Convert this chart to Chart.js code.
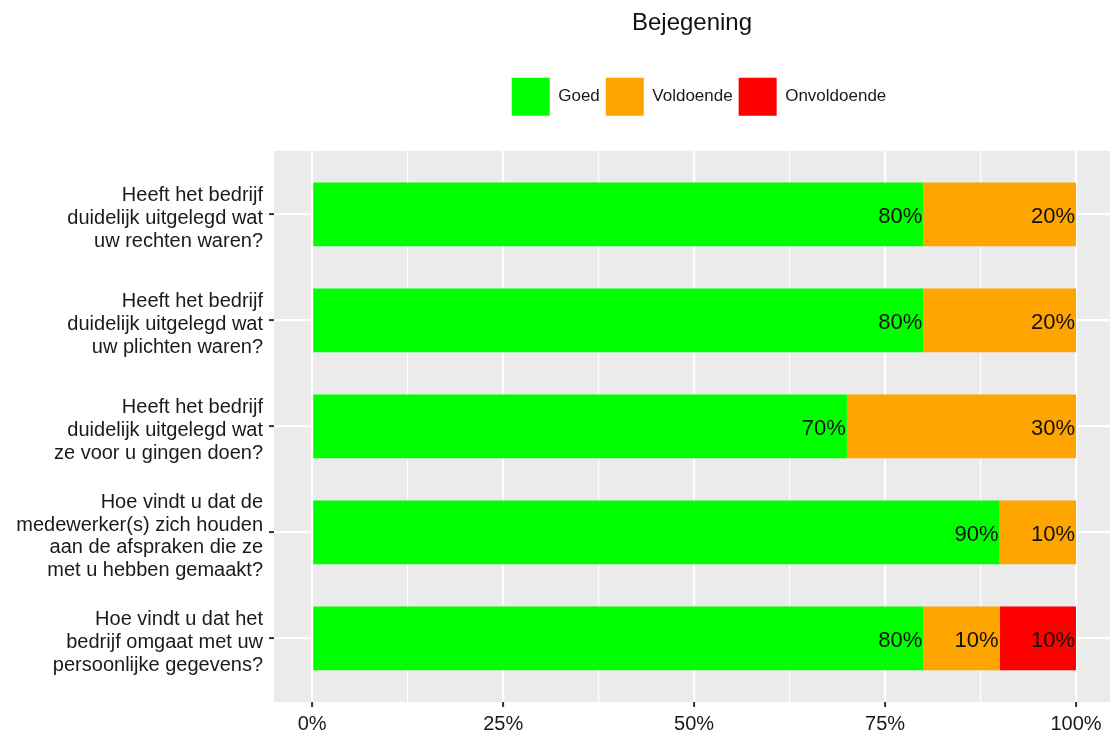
<!DOCTYPE html>
<html lang="nl">
<head>
  <meta charset="UTF-8" />
  <title>Bejegening</title>
  <script src="https://cdn.jsdelivr.net/npm/chart.js"></script>
  <style>
    body {
      margin: 0;
      background: #ffffff;
    }
    #wrap {
      width: 1110px;
      height: 736px;
    }
  </style>
</head>
<body>
  <div id="wrap"><canvas id="chart" width="1110" height="736"></canvas></div>

  <script>
    const questions = [
      ["Heeft het bedrijf", "duidelijk uitgelegd wat", "uw rechten waren?"],
      ["Heeft het bedrijf", "duidelijk uitgelegd wat", "uw plichten waren?"],
      ["Heeft het bedrijf", "duidelijk uitgelegd wat", "ze voor u gingen doen?"],
      ["Hoe vindt u dat de", "medewerker(s) zich houden", "aan de afspraken die ze", "met u hebben gemaakt?"],
      ["Hoe vindt u dat het", "bedrijf omgaat met uw", "persoonlijke gegevens?"]
    ];
    const goed = [0.8, 0.8, 0.7, 0.9, 0.8];
    const voldoende = [0.2, 0.2, 0.3, 0.1, 0.1];
    const onvoldoende = [0, 0, 0, 0, 0.1];
    const majorTicks = [0, 0.25, 0.5, 0.75, 1];
    const tickLabels = ["0%", "25%", "50%", "75%", "100%"];

    const FONT = '"Liberation Sans", Arial, sans-serif';

    // major + minor x positions (minor halfway between majors, like ggplot)
    const xTickValues = [];
    majorTicks.forEach((v, i) => {
      xTickValues.push(v);
      if (i < majorTicks.length - 1) xTickValues.push((v + majorTicks[i + 1]) / 2);
    });

    const toPoints = arr => arr.map((v, i) => ({ x: v, y: i }));

    const panelBg = {
      id: 'panelBg',
      afterLayout(chart) {
        // nudge legend a bit to the right, like the original
        if (chart.legend) {
          chart.legend.left += 7;
          chart.legend.right += 7;
          chart.legend.top += 1;
          chart.legend.bottom += 1;
        }
      },
      beforeDraw(chart) {
        const { ctx, chartArea: a } = chart;
        ctx.save();
        ctx.fillStyle = '#EBEBEB';
        ctx.fillRect(a.left, a.top, a.right - a.left, a.bottom - a.top);
        ctx.restore();
      }
    };

    const barLabels = {
      id: 'barLabels',
      afterDatasetsDraw(chart) {
        const ctx = chart.ctx;
        ctx.save();
        ctx.font = '22px ' + FONT;
        ctx.fillStyle = '#111';
        ctx.textAlign = 'right';
        ctx.textBaseline = 'middle';
        chart.data.datasets.forEach((ds, i) => {
          chart.getDatasetMeta(i).data.forEach((bar, j) => {
            const v = ds.data[j].x;
            if (!v) return;
            ctx.fillText(Math.round(v * 100) + '%', bar.x - 1, bar.y + 3);
          });
        });
        ctx.restore();
      }
    };

    new Chart(document.getElementById('chart').getContext('2d'), {
      type: 'bar',
      data: {
        datasets: [
          { label: 'Goed', data: toPoints(goed), backgroundColor: '#00FF00' },
          { label: 'Voldoende', data: toPoints(voldoende), backgroundColor: '#FFA500' },
          { label: 'Onvoldoende', data: toPoints(onvoldoende), backgroundColor: '#FF0000' }
        ]
      },
      options: {
        indexAxis: 'y',
        responsive: false,
        animation: false,
        layout: { padding: 0 },
        datasets: {
          bar: { categoryPercentage: 1, barPercentage: 0.6, borderWidth: 0 }
        },
        scales: {
          x: {
            type: 'linear',
            stacked: true,
            min: -0.05,
            max: 1.0445,
            afterBuildTicks: s => { s.ticks = xTickValues.map(v => ({ value: v })); },
            afterFit: s => { s.height = 34; },
            border: { display: false },
            grid: {
              color: '#ffffff',
              lineWidth: c => (c.index % 2 ? 1.2 : 2.2),
              tickColor: c => (c.index % 2 ? 'rgba(0,0,0,0)' : '#333333'),
              tickLength: 5,
              tickWidth: 2
            },
            ticks: {
              autoSkip: false,
              maxRotation: 0,
              padding: 5,
              color: '#1a1a1a',
              font: { family: FONT, size: 20 },
              callback: (v, i) => (i % 2 ? '' : tickLabels[i / 2])
            }
          },
          y: {
            type: 'linear',
            stacked: true,
            reverse: true,
            offset: false,
            min: -0.6,
            max: 4.6,
            afterBuildTicks: s => { s.ticks = questions.map((q, i) => ({ value: i })); },
            afterFit: s => {
              s.width = 274;
              s.paddingTop = 0;
              s.paddingBottom = 0;
            },
            border: { display: false },
            grid: {
              offset: false,
              color: '#ffffff',
              lineWidth: 2.2,
              tickColor: '#333333',
              tickLength: 5,
              tickWidth: 2
            },
            ticks: {
              autoSkip: false,
              padding: 6,
              labelOffset: 4,
              color: '#1a1a1a',
              font: { family: FONT, size: 20, lineHeight: 1.13 },
              callback: v => questions[v]
            }
          }
        },
        plugins: {
          title: {
            display: true,
            text: 'Bejegening',
            fullSize: false,
            color: '#111',
            font: { family: FONT, size: 24, weight: 'normal' },
            padding: { top: 9, bottom: 33 }
          },
          // empty spacer between legend and panel
          subtitle: {
            display: true,
            text: '',
            fullSize: false,
            weight: 500,
            font: { family: FONT, size: 10, lineHeight: 1 },
            padding: { top: 8, bottom: 8 }
          },
          legend: {
            display: true,
            position: 'top',
            fullSize: false,
            labels: {
              boxWidth: 38,
              boxHeight: 38,
              padding: 6,
              color: '#1a1a1a',
              font: { family: FONT, size: 17 }
            }
          },
          tooltip: { enabled: false }
        }
      },
      plugins: [panelBg, barLabels]
    });
  </script>
</body>
</html>
